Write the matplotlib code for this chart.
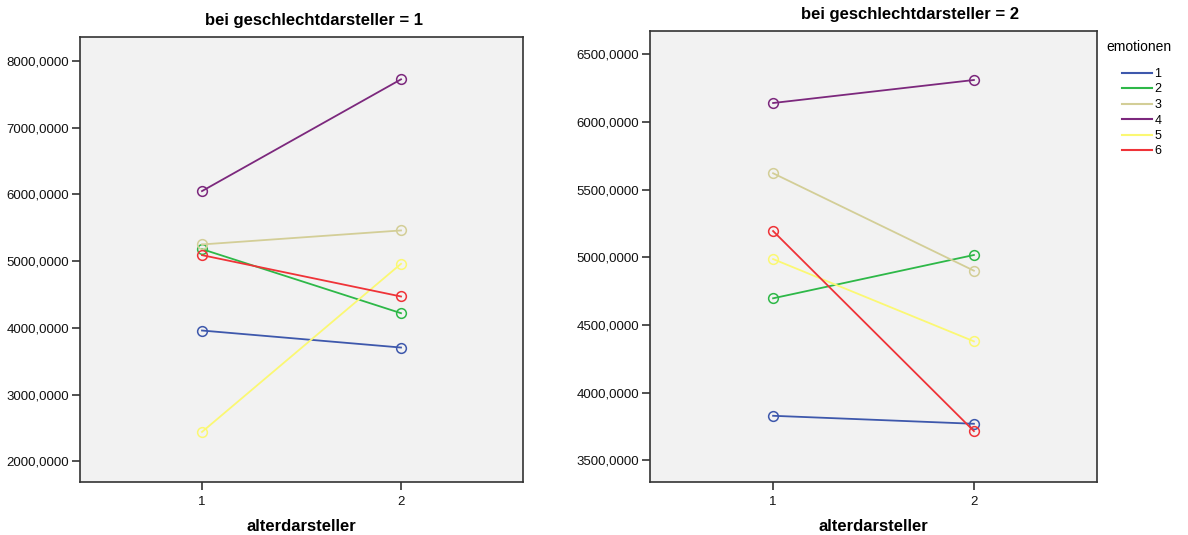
import numpy as np
import matplotlib.pyplot as plt
from matplotlib.lines import Line2D
from matplotlib.ticker import FuncFormatter

plt.rcParams['font.family'] = ['Liberation Sans', 'DejaVu Sans']

# alterdarsteller levels on x
alter = [1, 2]
emotionen = ['1', '2', '3', '4', '5', '6']
colors = ['#3E58AC', '#2EB848', '#D3CE97', '#7C287D', '#FBF873', '#EF3338']

# mean values, geschlechtdarsteller = 1
g1_values = [
    [3960, 3705],   # 1
    [5180, 4220],   # 2
    [5250, 5460],   # 3
    [6050, 7725],   # 4
    [2440, 4960],   # 5
    [5090, 4470],   # 6
]
# mean values, geschlechtdarsteller = 2
g2_values = [
    [3829, 3770],   # 1
    [4697, 5017],   # 2
    [5621, 4901],   # 3
    [6140, 6310],   # 4
    [4987, 4379],   # 5
    [5194, 3716],   # 6
]

def fmt(v, pos):
    return f'{v:.4f}'.replace('.', ',')


fig = plt.figure(figsize=(11.88, 5.35), dpi=100)
ax1 = fig.add_axes([80/1188, 53.3/535, 443/1188, 445/535])
ax2 = fig.add_axes([650/1188, 53.3/535, 447/1188, 450.7/535])

panels = [(ax1, g1_values, (1694, 8364), np.arange(2000, 8001, 1000), 314, 20, 'bei geschlechtdarsteller = 1'),
          (ax2, g2_values, (3342, 6672), np.arange(3500, 6501, 500), 910, 15, 'bei geschlechtdarsteller = 2')]

for ax, vals, ylim, yticks, tx, ty, title in panels:
    ax.set_facecolor('#F2F2F2')
    for lab, c, v in zip(emotionen, colors, vals):
        ax.plot(alter, v, color=c, lw=1.3, marker='o', markersize=7,
                markerfacecolor='none', markeredgecolor=c, markeredgewidth=1.1, label=lab)
    ax.set_xlim(0.387, 2.613)
    ax.set_ylim(*ylim)
    ax.set_xticks(alter)
    ax.set_yticks(yticks)
    ax.yaxis.set_major_formatter(FuncFormatter(fmt))
    ax.tick_params(axis='both', direction='out', length=6, width=1.2, labelsize=9.5,
                   color='#333333', labelcolor='#111111', pad=2)
    ax.tick_params(axis='x', pad=4)
    for s in ax.spines.values():
        s.set_color('#333333')
        s.set_linewidth(1.2)
    ax.set_xlabel('alterdarsteller', fontsize=12, fontweight='bold', labelpad=8)
    fig.text(tx / 1188, 1 - ty / 535, title, ha='center', va='center', fontsize=12, fontweight='bold')

# legend
handles = [Line2D([], [], color=c, lw=1.5) for c in colors]
fig.text(1106/1188, 1 - 47/535, 'emotionen', ha='left', va='center', fontsize=10)
fig.legend(handles, emotionen, loc='upper left',
           bbox_to_anchor=(1122/1188, 1 - 68/535), frameon=False,
           fontsize=9, handlelength=2.4, handletextpad=0.2,
           labelspacing=0.28, borderaxespad=0, borderpad=0)

fig.savefig('out.png', dpi=100)
